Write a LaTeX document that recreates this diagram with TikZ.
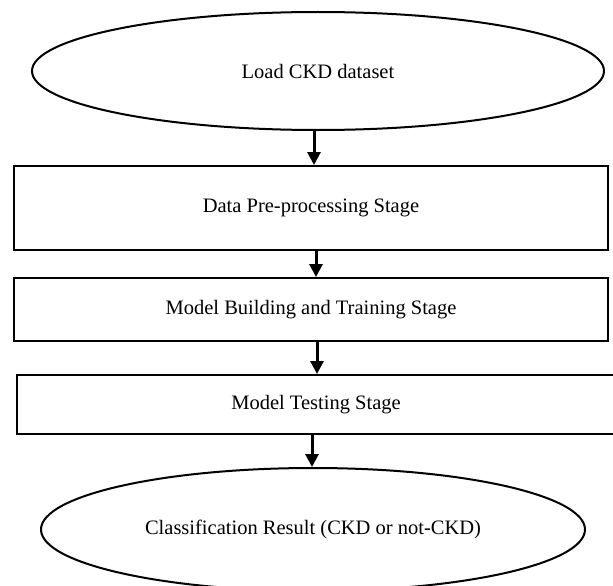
\documentclass[tikz,border=0pt]{standalone}
\usepackage{fontspec}
\setmainfont{Liberation Serif}
\usetikzlibrary{shapes.geometric,arrows.meta}
\begin{document}
\begin{tikzpicture}[x=1pt,y=-1pt,
  terminal/.style={draw,ellipse,line width=2pt,inner sep=0pt,font=\fontsize{20.5}{23}\selectfont},
  stagebox/.style={draw,rectangle,line width=2pt,inner sep=0pt,font=\fontsize{20.5}{23}\selectfont},
  flow/.style={line width=3pt,-{Triangle[width=13pt,length=13pt]}}]
\useasboundingbox (0,0) rectangle (613,586);
\clip (0,0) rectangle (613,586);
\node[terminal,minimum width=572pt,minimum height=118pt] (load) at (318,71) {Load CKD dataset};
\node[stagebox,minimum width=594pt,minimum height=84pt] (pre) at (311,208) {Data Pre-processing Stage};
\node[stagebox,minimum width=594pt,minimum height=63pt] (build) at (311,309.5) {Model Building and Training Stage};
\node[stagebox,minimum width=598pt,minimum height=59pt] (test) at (316,404.5) {Model Testing Stage};
\node[terminal,minimum width=544pt,minimum height=123pt] (result) at (313,529.5) {Classification Result (CKD or not-CKD)};
\coordinate (x1) at (314,0);
\coordinate (x2) at (316,0);
\coordinate (x3) at (317,0);
\coordinate (x4) at (312,0);
\draw[flow] (load.south -| x1) -- (pre.north -| x1);
\draw[flow] (pre.south -| x2) -- (build.north -| x2);
\draw[flow] (build.south -| x3) -- (test.north -| x3);
\draw[flow] (test.south -| x4) -- (result.north -| x4);
\end{tikzpicture}
\end{document}
